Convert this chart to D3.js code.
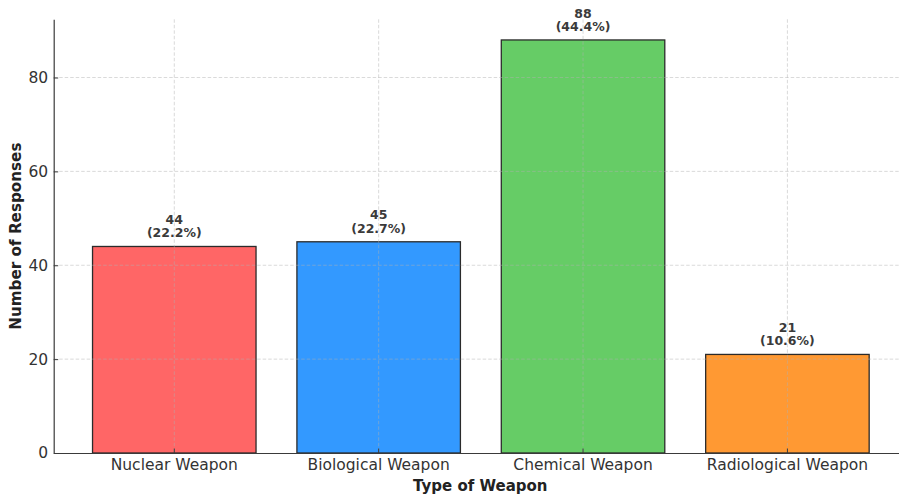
<!DOCTYPE html>
<html>
<head>
<meta charset="utf-8">
<script src="https://cdn.jsdelivr.net/npm/d3@7"></script>
<style>
  html, body { margin: 0; padding: 0; background: #ffffff; }
  svg { display: block; font-family: "DejaVu Sans", sans-serif; }
</style>
</head>
<body>
<svg id="chart" width="899" height="497"></svg>
<script>
// Survey responses by weapon type
const categories = ["Nuclear Weapon", "Biological Weapon", "Chemical Weapon", "Radiological Weapon"];
const counts = [44, 45, 88, 21];
const barColors = ["#ff6666", "#3399ff", "#66cc66", "#ff9933"];
const yTicks = [0, 20, 40, 60, 80];

const total = d3.sum(counts);
const svg = d3.select("#chart");

const plot = { left: 53.7, right: 908, top: 19.3, bottom: 453 };

const x = d3.scaleBand()
  .domain(categories)
  .range([plot.left, plot.right])
  .paddingInner(0.2)
  .paddingOuter(0.19);

const y = d3.scaleLinear()
  .domain([0, d3.max(counts) * 1.05])
  .range([plot.bottom, plot.top]);

// Bars
svg.append("g")
  .selectAll("rect")
  .data(categories)
  .join("rect")
  .attr("x", d => x(d))
  .attr("y", (d, i) => y(counts[i]))
  .attr("width", x.bandwidth())
  .attr("height", (d, i) => y(0) - y(counts[i]))
  .attr("fill", (d, i) => barColors[i])
  .attr("stroke", "#2b2b2b")
  .attr("stroke-width", 1.3);

// Dashed grid drawn over the bars
const grid = svg.append("g")
  .attr("stroke", "#b0b0b0")
  .attr("stroke-opacity", 0.6)
  .attr("stroke-width", 0.8)
  .attr("stroke-dasharray", "3.5,2");

grid.selectAll("line.h")
  .data(yTicks.filter(t => t > 0))
  .join("line")
  .attr("class", "h")
  .attr("x1", plot.left)
  .attr("x2", plot.right)
  .attr("y1", d => y(d))
  .attr("y2", d => y(d));

grid.selectAll("line.v")
  .data(categories)
  .join("line")
  .attr("class", "v")
  .attr("x1", d => x(d) + x.bandwidth() / 2)
  .attr("x2", d => x(d) + x.bandwidth() / 2)
  .attr("y1", plot.top)
  .attr("y2", plot.bottom);

// Axes (ticks point inward)
const xAxis = svg.append("g")
  .attr("transform", `translate(0,${plot.bottom})`)
  .call(d3.axisBottom(x).tickSizeInner(-4.5).tickSizeOuter(0).tickPadding(6));

const yAxis = svg.append("g")
  .attr("transform", `translate(${plot.left},0)`)
  .call(d3.axisLeft(y).tickValues(yTicks).tickFormat(d3.format("d"))
    .tickSizeInner(-4.5).tickSizeOuter(0).tickPadding(5.5));

[xAxis, yAxis].forEach(a => {
  a.select(".domain").attr("stroke", "#3a3a3a").attr("stroke-width", 1.2);
  a.selectAll(".tick line").attr("stroke", "#3a3a3a").attr("stroke-width", 1);
  a.selectAll(".tick text")
    .attr("fill", "#333333")
    .style("font-size", "15.5px")
    .style("font-family", "DejaVu Sans, sans-serif");
});

// Value labels: count and share of total
const labels = svg.append("g")
  .attr("text-anchor", "middle")
  .attr("fill", "#3a3a3a")
  .style("font-size", "12.5px")
  .style("font-weight", "bold");

categories.forEach((c, i) => {
  const cx = x(c) + x.bandwidth() / 2;
  const top = y(counts[i]);
  const t = labels.append("text").attr("x", cx);
  t.append("tspan").attr("x", cx).attr("y", top - 22.4).text(counts[i]);
  t.append("tspan").attr("x", cx).attr("y", top - 9)
    .text(`(${(counts[i] / total * 100).toFixed(1)}%)`);
});

// Axis titles
svg.append("text")
  .attr("x", (plot.left + 908) / 2 - 0.5)
  .attr("y", 491)
  .attr("text-anchor", "middle")
  .attr("fill", "#222222")
  .style("font-size", "15px")
  .style("font-weight", "bold")
  .text("Type of Weapon");

svg.append("text")
  .attr("transform", `translate(20.5,${(plot.top + plot.bottom) / 2}) rotate(-90)`)
  .attr("text-anchor", "middle")
  .attr("fill", "#222222")
  .style("font-size", "15.2px")
  .style("font-weight", "bold")
  .text("Number of Responses");
</script>
</body>
</html>
